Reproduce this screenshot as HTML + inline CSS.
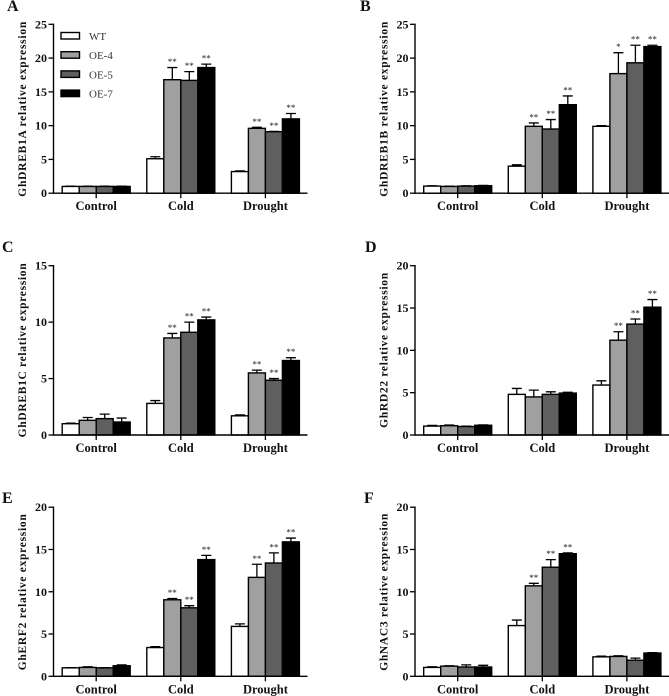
<!DOCTYPE html>
<html>
<head>
<meta charset="utf-8">
<title>Relative expression charts</title>
<style>
html,body{margin:0;padding:0;background:#fff;}
svg{display:block;font-family:"Liberation Serif",serif;filter:blur(0.35px);}
.tick{font-size:12px;font-weight:bold;text-anchor:end;fill:#111;}
.cat{font-size:12.5px;font-weight:bold;text-anchor:middle;fill:#111;}
.ttl{font-size:11.5px;font-weight:bold;text-anchor:middle;fill:#111;}
.star{font-size:9px;text-anchor:middle;fill:#222;}
.letter{font-size:16px;font-weight:bold;fill:#111;}
.leg{font-size:11px;fill:#333;}
</style>
</head>
<body>
<svg id="fig" width="669" height="696" viewBox="0 0 669 696" xmlns="http://www.w3.org/2000/svg"></svg>
<script>
const categories = ['Control', 'Cold', 'Drought'];
const seriesNames = ['WT', 'OE-4', 'OE-5', 'OE-7'];

const titleA = 'GhDREB1A relative expression';
const ticksA = [0, 5, 10, 15, 20, 25];
const valuesA = [[1, 1, 1, 1], [5.1, 16.8, 16.7, 18.6], [3.2, 9.6, 9.1, 11]];
const errorsA = [[0.05, 0.05, 0.05, 0.05], [0.3, 1.8, 1.3, 0.5], [0.1, 0.15, 0.05, 0.8]];
const starsA = [['', '', '', ''], ['', '**', '**', '**'], ['', '**', '**', '**']];

const titleB = 'GhDREB1B relative expression';
const ticksB = [0, 5, 10, 15, 20, 25];
const valuesB = [[1.05, 1, 1.05, 1.1], [4, 9.9, 9.5, 13.1], [9.9, 17.7, 19.3, 21.7]];
const errorsB = [[0.05, 0.05, 0.05, 0.05], [0.2, 0.5, 1.4, 1.3], [0.1, 3.1, 2.6, 0.2]];
const starsB = [['', '', '', ''], ['', '**', '**', '**'], ['', '*', '**', '**']];

const titleC = 'GhDREB1C relative expression';
const ticksC = [0, 5, 10, 15];
const valuesC = [[1, 1.3, 1.45, 1.15], [2.8, 8.6, 9.1, 10.2], [1.7, 5.5, 4.85, 6.6]];
const errorsC = [[0.05, 0.25, 0.4, 0.35], [0.25, 0.4, 0.9, 0.25], [0.08, 0.25, 0.15, 0.25]];
const starsC = [['', '', '', ''], ['', '**', '**', '**'], ['', '**', '**', '**']];

const titleD = 'GhRD22 relative expression';
const ticksD = [0, 5, 10, 15, 20];
const valuesD = [[1.05, 1.1, 1, 1.15], [4.8, 4.5, 4.8, 4.95], [5.9, 11.2, 13.1, 15.1]];
const errorsD = [[0.08, 0.08, 0.05, 0.05], [0.7, 0.8, 0.3, 0.1], [0.5, 1, 0.6, 0.9]];
const starsD = [['', '', '', ''], ['', '', '', ''], ['', '**', '**', '**']];

const titleE = 'GhERF2 relative expression';
const ticksE = [0, 5, 10, 15, 20];
const valuesE = [[1, 1.05, 1, 1.25], [3.4, 9.05, 8.1, 13.8], [5.9, 11.7, 13.4, 15.9]];
const errorsE = [[0.03, 0.08, 0.03, 0.1], [0.1, 0.15, 0.25, 0.5], [0.3, 1.55, 1.2, 0.45]];
const starsE = [['', '', '', ''], ['', '**', '**', '**'], ['', '**', '**', '**']];

const titleF = 'GhNAC3 relative expression';
const ticksF = [0, 5, 10, 15, 20];
const valuesF = [[1.05, 1.2, 1.1, 1.1], [6, 10.7, 12.9, 14.5], [2.3, 2.35, 1.9, 2.75]];
const errorsF = [[0.07, 0.05, 0.25, 0.2], [0.65, 0.3, 0.9, 0.1], [0.08, 0.08, 0.25, 0.05]];
const starsF = [['', '', '', ''], ['', '**', '**', '**'], ['', '', '', '']];

const fills = ['#ffffff', '#a0a0a0', '#5f5f5f', '#000000'];
const NS = 'http://www.w3.org/2000/svg';
const fig = document.getElementById('fig');

function mk(tag, attrs, parent, text) {
  const el = document.createElementNS(NS, tag);
  for (const k in attrs) el.setAttribute(k, attrs[k]);
  if (text !== undefined) el.textContent = text;
  parent.appendChild(el);
  return el;
}

function drawPanel(p) {
  const g = mk('g', {}, fig);
  
  

  const maxTick = p.ticks[p.ticks.length - 1];
  const yScale = v => p.bottom - (v / maxTick) * (p.bottom - p.top);
  const barW = 17;
  const groupX = i => p.axisX + 8.7 + i * 84.6;
  const barX = (i, j) => groupX(i) + j * barW;

  const letter = mk('text', {x: p.letterX, y: p.letterY, class: 'letter'}, g, p.letter);
  
  

  const cy = (p.top + p.bottom) / 2 + p.titleShift;
  const title = mk('text', {
    x: p.axisX - 27.5, y: cy, class: 'ttl',
    transform: 'rotate(-90 ' + (p.axisX - 27.5) + ' ' + cy + ')',
    textLength: p.titleLen, lengthAdjust: 'spacing'
  }, g, p.title);
  
  

  p.values.forEach((grp, i) => {
    grp.forEach((v, j) => {
      const x = barX(i, j), w = barW, yT = yScale(v), yE = yScale(v + p.errors[i][j]);
      const cx = x + w / 2;
      const err = mk('path', {
        d: 'M' + cx + ' ' + yT + 'V' + yE + 'M' + (cx - 5) + ' ' + yE + 'H' + (cx + 5),
        stroke: '#000', 'stroke-width': 1.3, fill: 'none'
      }, g);
      
      
      const bar = mk('rect', {
        x: x, y: yT, width: w, height: p.bottom - yT,
        fill: fills[j], stroke: '#000', 'stroke-width': 1.4
      }, g);
      
      
      if (p.stars[i][j]) {
        const s = mk('text', {x: cx, y: yE - 2.5, class: 'star'}, g, p.stars[i][j]);
        
        
      }
    });
  });

  const yAxis = mk('line', {x1: p.axisX, x2: p.axisX, y1: p.top - 0.7, y2: p.bottom + 0.7, stroke: '#000', 'stroke-width': 1.4}, g);
  
  
  const xAxis = mk('line', {x1: p.axisX, x2: p.axisX + 254, y1: p.bottom, y2: p.bottom, stroke: '#000', 'stroke-width': 1.4}, g);
  
  

  p.ticks.forEach(t => {
    const y = yScale(t);
    const tk = mk('line', {x1: p.axisX - 5, x2: p.axisX, y1: y, y2: y, stroke: '#000', 'stroke-width': 1.3}, g);
    
    
    const lb = mk('text', {x: p.axisX - 6.5, y: y + 4, class: 'tick'}, g, t);
    
    
  });

  categories.forEach((c, i) => {
    const cx = groupX(i) + 2 * barW;
    const tk = mk('line', {x1: cx, x2: cx, y1: p.bottom, y2: p.bottom + 5, stroke: '#000', 'stroke-width': 1.3}, g);
    
    
    const lb = mk('text', {x: cx, y: p.bottom + 17, class: 'cat'}, g, c);
    
    
  });
}

drawPanel({letter: 'A', letterX: 7, letterY: 11, axisX: 53.5, top: 24.3, bottom: 193.2, title: titleA, titleLen: 175, titleShift: 0.5, ticks: ticksA, values: valuesA, errors: errorsA, stars: starsA});
drawPanel({letter: 'B', letterX: 360, letterY: 11, axisX: 415, top: 24.3, bottom: 193.2, title: titleB, titleLen: 175, titleShift: 0.5, ticks: ticksB, values: valuesB, errors: errorsB, stars: starsB});
drawPanel({letter: 'C', letterX: 2, letterY: 252, axisX: 53.5, top: 265.7, bottom: 435, title: titleC, titleLen: 174, titleShift: 0, ticks: ticksC, values: valuesC, errors: errorsC, stars: starsC});
drawPanel({letter: 'D', letterX: 365, letterY: 252, axisX: 415, top: 265.7, bottom: 435, title: titleD, titleLen: 155, titleShift: 0, ticks: ticksD, values: valuesD, errors: errorsD, stars: starsD});
drawPanel({letter: 'E', letterX: 2, letterY: 503, axisX: 53.5, top: 507.2, bottom: 676.3, title: titleE, titleLen: 156, titleShift: 0.5, ticks: ticksE, values: valuesE, errors: errorsE, stars: starsE});
drawPanel({letter: 'F', letterX: 364, letterY: 503, axisX: 415, top: 507.2, bottom: 676.3, title: titleF, titleLen: 157, titleShift: 0.5, ticks: ticksF, values: valuesF, errors: errorsF, stars: starsF});

const legend = mk('g', {}, fig);


seriesNames.forEach((name, j) => {
  const y = 32.5 + j * 19.2;
  const sw = mk('rect', {x: 61, y: y, width: 18.5, height: 6.5, fill: fills[j], stroke: '#000', 'stroke-width': 1.4}, legend);
  
  
  const tx = mk('text', {x: 89, y: y + 7.5, class: 'leg'}, legend, name);
  
  
});
</script>
</body>
</html>
